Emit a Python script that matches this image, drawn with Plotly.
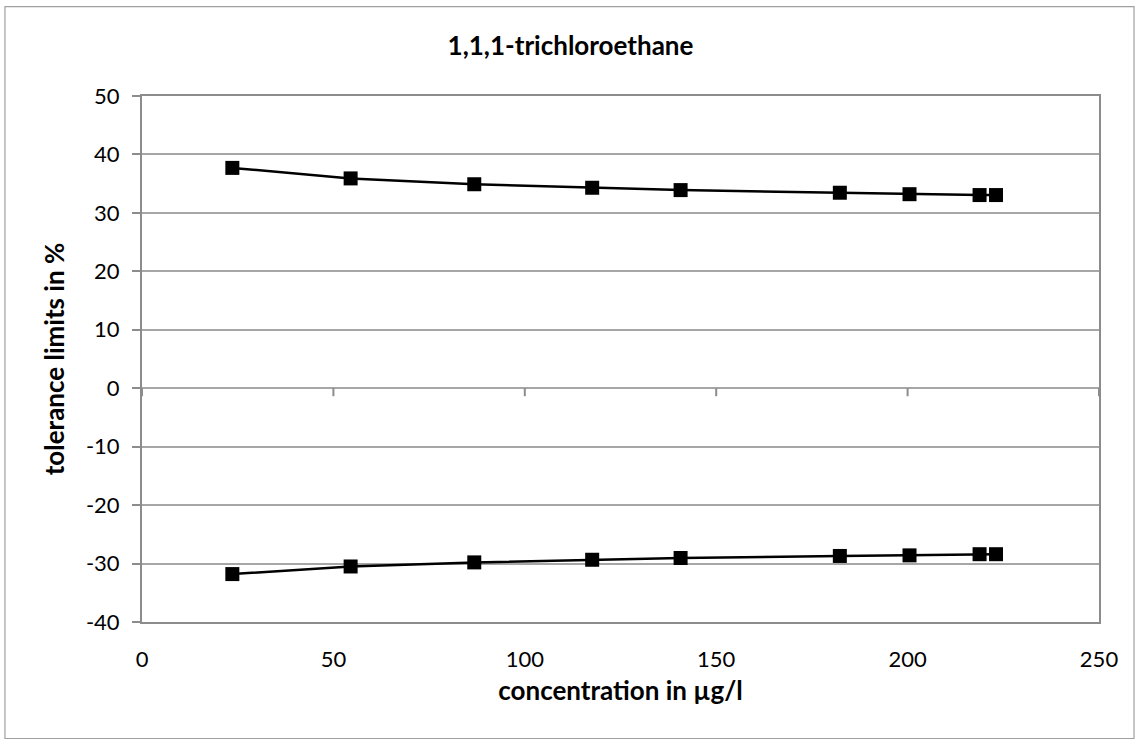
import plotly.graph_objects as go

# concentrations (µg/l) and tolerance limits (%)
conc = [23.6, 54.5, 86.8, 117.6, 140.7, 182.3, 200.5, 218.8, 223.1]
upper = [37.7, 35.9, 34.9, 34.3, 33.9, 33.45, 33.2, 33.05, 33.05]
lower = [-31.8, -30.5, -29.8, -29.35, -29.05, -28.7, -28.6, -28.4, -28.4]

x_ticks = [0, 50, 100, 150, 200, 250]
y_ticks = [50, 40, 30, 20, 10, 0, -10, -20, -30, -40]
y_labels = [str(v) for v in y_ticks]  # plain hyphen, like the original

FONT = "Lato, Calibri, sans-serif"
GRID = "#a6a6a6"
AXIS = "#8c8c8c"

fig = go.Figure()
for vals in (upper, lower):
    fig.add_trace(go.Scatter(x=conc, y=vals, mode="lines+markers",
                             line=dict(color="black", width=2.5),
                             marker=dict(symbol="square", size=14, color="black"),
                             showlegend=False, hoverinfo="x+y"))

# x axis crosses at y=0 in the original: small tick marks hanging from the zero line
shapes = []
for t in x_ticks:
    shapes.append(dict(type="line", xref="x", yref="y", ysizemode="pixel", yanchor=0,
                       x0=t, x1=t, y0=0, y1=-8, line=dict(color=AXIS, width=2)))
# outer chart border
shapes.append(dict(type="rect", xref="paper", yref="paper",
                   x0=-0.1432, x1=1.0366, y0=-0.2215, y1=1.170,
                   line=dict(color="#a0a0a0", width=1.2), layer="below"))

fig.update_layout(
    width=1141, height=744,
    margin=dict(l=142, r=42, t=96, b=122),
    paper_bgcolor="white", plot_bgcolor="white",
    font=dict(family=FONT, color="black"),
    title=dict(text="<b>1,1,1-trichloroethane</b>", x=0.5, xanchor="center",
               y=0.938, yanchor="middle", font=dict(size=26, family=FONT)),
    shapes=shapes,
    xaxis=dict(range=[0, 250], tickvals=x_ticks, ticks="", showgrid=False,
               zeroline=False, showline=True, linecolor=AXIS, linewidth=2, mirror=True,
               tickfont=dict(size=22), ticklabelstandoff=17,
               title=dict(text="<b>concentration in µg/l</b>", font=dict(size=26), standoff=10)),
    yaxis=dict(range=[-40, 50], tickvals=y_ticks, ticktext=y_labels,
               ticks="outside", ticklen=8, tickcolor=AXIS, tickwidth=2,
               showgrid=True, gridcolor=GRID, gridwidth=1.5,
               zeroline=False, showline=True, linecolor=AXIS, linewidth=2, mirror=True,
               tickfont=dict(size=22), ticklabelstandoff=8,
               title=dict(text="<b>tolerance limits in %</b>", font=dict(size=26), standoff=14)),
)

# drop the browser's default body margin so the figure sits at the page origin
fig.write_html("out.html", config={"displayModeBar": False},
               post_script="document.body.style.margin='0';document.body.style.overflow='hidden';")
